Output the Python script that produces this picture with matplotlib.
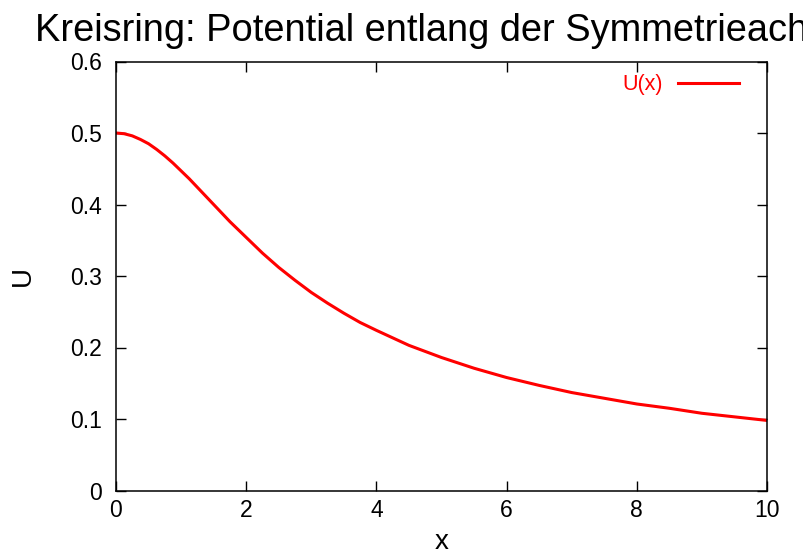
import numpy as np
import matplotlib
matplotlib.use('Agg')
import matplotlib.pyplot as plt

# Potential along the symmetry axis
x_vals = [0, 0.125, 0.25, 0.375, 0.5, 0.625, 0.75, 0.875, 1, 1.125, 1.25, 1.375,
          1.5, 1.625, 1.75, 2, 2.25, 2.5, 2.75, 3, 3.25, 3.5, 3.75, 4,
          4.5, 5, 5.5, 6, 6.5, 7, 7.5, 8, 8.5, 9, 9.5, 10]
u_vals = [0.500, 0.499, 0.496, 0.491, 0.485, 0.477, 0.468, 0.458, 0.447, 0.436,
          0.424, 0.412, 0.400, 0.388, 0.376, 0.354, 0.332, 0.312, 0.294, 0.277,
          0.262, 0.248, 0.235, 0.224, 0.203, 0.186, 0.171, 0.158, 0.147, 0.137,
          0.129, 0.121, 0.115, 0.108, 0.103, 0.098]
x_ticks = [0, 2, 4, 6, 8, 10]
y_ticks = [0, 0.1, 0.2, 0.3, 0.4, 0.5, 0.6]
title = 'Kreisring: Potential entlang der Symmetrieachse'

plt.rcParams['font.family'] = ['Liberation Sans', 'DejaVu Sans']

fig = plt.figure(figsize=(8.04, 5.56), dpi=100)
left, right, top, bottom = 116, 767, 61.5, 490.5
ax = fig.add_axes([left / 804, 1 - bottom / 556, (right - left) / 804, (bottom - top) / 556])

ax.plot(x_vals, u_vals, color='#ff0000', lw=2.2, label='U(x)')

ax.set_xlim(0, 10)
ax.set_ylim(0, 0.6)
ax.set_xticks(x_ticks)
ax.set_yticks(y_ticks)
ax.set_xticklabels([str(t) for t in x_ticks])
ax.set_yticklabels(['0'] + ['%.1f' % t for t in y_ticks[1:]])
ax.tick_params(direction='in', length=7.2, width=1, labelsize=16.5,
               top=True, right=True)
ax.tick_params(axis='x', pad=6)
ax.tick_params(axis='y', pad=10)
for s in ax.spines.values():
    s.set_linewidth(1.1)

ax.set_xlabel('x', fontsize=20)
ax.set_ylabel('U', fontsize=20)
ax.xaxis.label.set_va('baseline')
ax.yaxis.label.set_va('center')
ax.xaxis.set_label_coords(0.5, (bottom - 549) / (bottom - top))
ax.yaxis.set_label_coords((23 - left) / (right - left), 0.5)

leg = ax.legend(loc='upper right', bbox_to_anchor=(0.970, 0.9907), borderaxespad=0,
                frameon=False, fontsize=15.5, markerfirst=False,
                handlelength=2.85, handletextpad=0.7)
for t in leg.get_texts():
    t.set_color('#ff0000')

fig.text((left + right) / 2 / 804, 1 - 31 / 556, title, fontsize=27.4,
         ha='center', va='center')

fig.savefig('out.png', dpi=100)
